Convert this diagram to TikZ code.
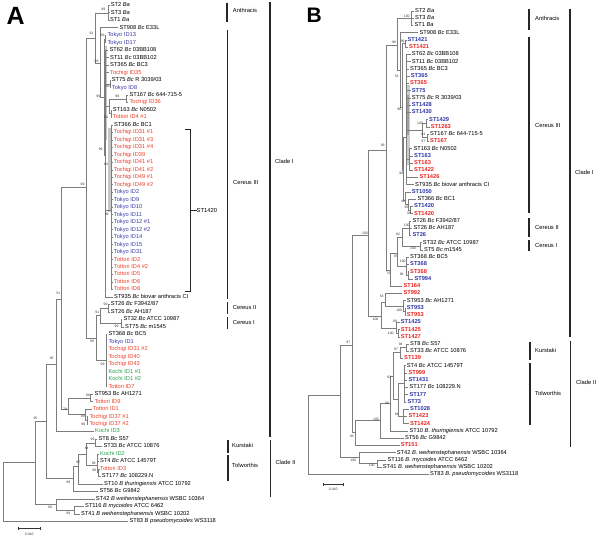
\documentclass[tikz,border=0pt]{standalone}
\usepackage{fontspec}
\setmainfont{Liberation Sans}
\definecolor{tokyo}{RGB}{58,58,165}
\definecolor{tochi}{RGB}{236,64,42}
\definecolor{kochi}{RGB}{38,160,70}
\definecolor{bblue}{RGB}{45,55,165}
\definecolor{bred}{RGB}{235,35,30}
\definecolor{treeg}{RGB}{125,125,125}
\newcommand\YA[1]{5.3+(#1-1)*7.478}
\newcommand\YB[1]{11+(#1-1)*7.24}
\tikzset{
 lf/.style={anchor=west,inner xsep=1pt,inner ysep=0pt,font=\fontsize{5.7}{6}\selectfont,text height=4.1pt,text depth=1.2pt},
 tk/.style={text=tokyo}, tg/.style={text=tochi}, kc/.style={text=kochi},
 bl/.style={text=bblue,font=\fontsize{5.7}{6}\selectfont\bfseries},
 rd/.style={text=bred,font=\fontsize{5.7}{6}\selectfont\bfseries},
 br/.style={draw=treeg,line width=0.55pt},
 bs/.style={font=\fontsize{3.4}{3.4}\selectfont,inner sep=0pt,text=black!80},
 clb/.style={draw=black!85,line width=1.1pt},
 tkb/.style={draw=black!85,line width=0.5pt},
 cl/.style={anchor=west,inner sep=0pt,font=\fontsize{5.8}{6}\selectfont,text height=4.1pt,text depth=1.2pt},
 gbar/.style={fill=gray!45,draw=none},
 sbar/.style={draw=black!80,line width=0.5pt},
}
\begin{document}
\begin{tikzpicture}[x=1pt,y=-1pt]
\useasboundingbox (0,0) rectangle (600,537);
\node[anchor=base west,inner sep=0pt,font=\fontsize{25}{25}\selectfont\bfseries] (labA) at (6.5,25) {A};
\node[anchor=base west,inner sep=0pt,font=\fontsize{21}{21}\selectfont\bfseries] (labB) at (306.5,22.7) {B};

% ---------------- Panel A ----------------
\fill[gbar] (104.8,46) rectangle (107.2,140);
\fill[gbar] (108.2,128) rectangle (110.6,212);

\node[lf] (a1) at (109.7,{\YA{1}}) {ST2 \textit{Ba}};
\node[lf] (a2) at (109.7,{\YA{2}}) {ST3 \textit{Ba}};
\node[lf] (a3) at (109,{\YA{3}}) {ST1 \textit{Ba}};
\node[lf] (a4) at (118.3,{\YA{4}}) {ST908 \textit{Bc} E33L};
\node[lf,tk] (a5) at (106.3,{\YA{5}}) {Tokyo ID13};
\node[lf,tk] (a6) at (106.3,{\YA{6}}) {Tokyo ID17};
\node[lf] (a7) at (108.3,{\YA{7}}) {ST62 \textit{Bc} 03BB108};
\node[lf] (a8) at (109,{\YA{8}}) {ST11 \textit{Bc} 03BB102};
\node[lf] (a9) at (109,{\YA{9}}) {ST365 \textit{Bc} BC3};
\node[lf,tg] (a10) at (109,{\YA{10}}) {Tochigi ID35};
\node[lf] (a11) at (110.7,{\YA{11}}) {ST75 \textit{Bc} R 3039/03};
\node[lf,tk] (a12) at (110.7,{\YA{12}}) {Tokyo ID8};
\node[lf] (a13) at (128.3,{\YA{13}}) {ST167 \textit{Bc} 644-715-5};
\node[lf,tg] (a14) at (128.3,{\YA{14}}) {Tochigi ID36};
\node[lf] (a15) at (111.7,{\YA{15}}) {ST163 \textit{Bc} N0502};
\node[lf,tg] (a16) at (111.7,{\YA{16}}) {Tottori ID4 \#1};
\node[lf] (a17) at (113,{\YA{17}}) {ST366 \textit{Bc} BC1};
\node[lf,tg] (a18) at (112.7,{\YA{18}}) {Tochigi ID31 \#1};
\node[lf,tg] (a19) at (112.7,{\YA{19}}) {Tochigi ID31 \#3};
\node[lf,tg] (a20) at (112.7,{\YA{20}}) {Tochigi ID31 \#4};
\node[lf,tg] (a21) at (112.7,{\YA{21}}) {Tochigi ID39};
\node[lf,tg] (a22) at (112.7,{\YA{22}}) {Tochigi ID41 \#1};
\node[lf,tg] (a23) at (112.7,{\YA{23}}) {Tochigi ID41 \#2};
\node[lf,tg] (a24) at (112.7,{\YA{24}}) {Tochigi ID49 \#1};
\node[lf,tg] (a25) at (112.7,{\YA{25}}) {Tochigi ID49 \#2};
\node[lf,tk] (a26) at (112.7,{\YA{26}}) {Tokyo ID2};
\node[lf,tk] (a27) at (112.7,{\YA{27}}) {Tokyo ID9};
\node[lf,tk] (a28) at (112.7,{\YA{28}}) {Tokyo ID10};
\node[lf,tk] (a29) at (112.7,{\YA{29}}) {Tokyo ID11};
\node[lf,tk] (a30) at (112.7,{\YA{30}}) {Tokyo ID12 \#1};
\node[lf,tk] (a31) at (112.7,{\YA{31}}) {Tokyo ID12 \#2};
\node[lf,tk] (a32) at (112.7,{\YA{32}}) {Tokyo ID14};
\node[lf,tk] (a33) at (112.7,{\YA{33}}) {Tokyo ID15};
\node[lf,tk] (a34) at (112.7,{\YA{34}}) {Tokyo ID31};
\node[lf,tg] (a35) at (113,{\YA{35}}) {Tottori ID2};
\node[lf,tg] (a36) at (113,{\YA{36}}) {Tottori ID4 \#2};
\node[lf,tg] (a37) at (113,{\YA{37}}) {Tottori ID5};
\node[lf,tg] (a38) at (113,{\YA{38}}) {Tottori ID6};
\node[lf,tg] (a39) at (113,{\YA{39}}) {Tottori ID8};
\node[lf] (a40) at (113,{\YA{40}}) {ST935 \textit{Bc} biovar anthracis CI};
\node[lf] (a41) at (109.7,{\YA{41}}) {ST26 \textit{Bc} F3942/87};
\node[lf] (a42) at (109.7,{\YA{42}}) {ST26 \textit{Bc} AH187};
\node[lf] (a43) at (122.3,{\YA{43}}) {ST32 \textit{Bc} ATCC 10987};
\node[lf] (a44) at (124,{\YA{44}}) {ST75 \textit{Bc} m1545};
\node[lf] (a45) at (107.3,{\YA{45}}) {ST368 \textit{Bc} BC5};
\node[lf,tk] (a46) at (107.3,{\YA{46}}) {Tokyo ID1};
\node[lf,tg] (a47) at (107.3,{\YA{47}}) {Tochigi ID31 \#2};
\node[lf,tg] (a48) at (107.3,{\YA{48}}) {Tochigi ID40};
\node[lf,tg] (a49) at (107.3,{\YA{49}}) {Tochigi ID43};
\node[lf,kc] (a50) at (107.3,{\YA{50}}) {Kochi ID1 \#1};
\node[lf,kc] (a51) at (107.3,{\YA{51}}) {Kochi ID1 \#2};
\node[lf,tg] (a52) at (107.3,{\YA{52}}) {Tottori ID7};
\node[lf] (a53) at (93.3,{\YA{53}}) {ST953 Bc AH1271};
\node[lf,tg] (a54) at (93.3,{\YA{54}}) {Tottori ID9};
\node[lf,tg] (a55) at (91.7,{\YA{55}}) {Tottori ID1};
\node[lf,tg] (a56) at (88.3,{\YA{56}}) {Tochigi ID37 \#1};
\node[lf,tg] (a57) at (88.3,{\YA{57}}) {Tochigi ID37 \#2};
\node[lf,kc] (a58) at (94,{\YA{58}}) {Kochi ID3};
\node[lf] (a59) at (97.3,{\YA{59}}) {ST8 \textit{Bc} S57};
\node[lf] (a60) at (102.3,{\YA{60}}) {ST33 \textit{Bc} ATCC 10876};
\node[lf,kc] (a61) at (99,{\YA{61}}) {Kochi ID2};
\node[lf] (a62) at (99,{\YA{62}}) {ST4 \textit{Bc} ATCC 14579T};
\node[lf,tg] (a63) at (99,{\YA{63}}) {Tottori ID3};
\node[lf] (a64) at (100.7,{\YA{64}}) {ST177 \textit{Bc} 108229.N};
\node[lf] (a65) at (103,{\YA{65}}) {ST10 \textit{B thuringiensis} ATCC 10792};
\node[lf] (a66) at (98.3,{\YA{66}}) {ST56 \textit{Bc} G9842};
\node[lf] (a67) at (94.7,{\YA{67}}) {ST42 \textit{B weihenstephanensis} WSBC 10364};
\node[lf] (a68) at (84,{\YA{68}}) {ST116 \textit{B mycoides} ATCC 6462};
\node[lf] (a69) at (80,{\YA{69}}) {ST41 \textit{B weihenstephanensis} WSBC 10202};
\node[lf] (a70) at (128.3,{\YA{70}}) {ST83 \textit{B pseudomycoides} WS3118};

\coordinate (RA) at (3.3,490);
\coordinate (N1) at (35.7,462.5);
\coordinate (W) at (56,503.8);
\coordinate (W2) at (74,510.1);
\coordinate (N2) at (46.7,421.5);
\coordinate (CII) at (73.3,478);
\coordinate (H) at (78.3,466);
\coordinate (H2) at (86.7,454);
\coordinate (Kur) at (95.5,442.8);
\coordinate (Tol) at (97.5,465);
\coordinate (Tol2) at (98.5,472.7);
\coordinate (C1) at (56,364);
\coordinate (D) at (61.7,299);
\coordinate (E) at (68.3,409);
\coordinate (F) at (90,397.9);
\coordinate (G) at (85,414.5);
\coordinate (G2) at (87.3,420.3);
\coordinate (K) at (86,187);
\coordinate (S0) at (96.7,338);
\coordinate (C91) at (100,315);
\coordinate (C2) at (108.5,308.2);
\coordinate (CI) at (121.3,323.1);
\coordinate (S368) at (106.3,360.5);
\coordinate (P1) at (95,38);
\coordinate (Ba) at (108.5,12.8);
\coordinate (P2) at (100.7,63);
\coordinate (P3) at (104,97);
\coordinate (T1317) at (105.2,39);
\coordinate (P4) at (105.5,155);
\coordinate (Q2) at (109.8,83.8);
\coordinate (S16) at (109.3,106);
\coordinate (S167) at (126.7,98.8);
\coordinate (S163) at (111.1,113.7);
\coordinate (S1420) at (111.5,210);

\foreach \p/\c in {RA/N1,RA/a70,N1/N2,N1/W,W/a67,W/W2,W2/a68,W2/a69,N2/C1,N2/CII,
  CII/H,CII/a66,H/H2,H/a65,H2/Kur,H2/Tol,Kur/a59,Kur/a60,Tol/a61,Tol/a62,Tol/Tol2,Tol2/a63,Tol2/a64,
  C1/D,C1/a58,D/K,D/E,E/F,E/G,F/a53,F/a54,G/a55,G/G2,G2/a56,G2/a57,
  K/P1,K/S0,S0/C91,S0/S368,C91/C2,C91/CI,C2/a41,C2/a42,CI/a43,CI/a44,
  P1/Ba,P1/P2,Ba/a1,Ba/a2,Ba/a3,P2/a4,P2/P3,P3/T1317,P3/P4,T1317/a5,T1317/a6,
  P4/a7,P4/a8,P4/a9,P4/a10,P4/Q2,P4/S16,P4/S1420,P4/a40,Q2/a11,Q2/a12,
  S16/S167,S16/S163,S167/a13,S167/a14,S163/a15,S163/a16}
  \draw[br] (\p) |- (\c);
\foreach \i in {45,...,52} \draw[br] (S368) |- (a\i);
\foreach \i in {17,...,39} \draw[br] (S1420) |- (a\i);

% bootstrap A
\node[bs] (ba1) at (103.3,9.5) {99};
\node[bs] (ba2) at (91.5,33) {91};
\node[bs] (ba3) at (102.5,35.5) {99};
\node[bs] (ba4) at (96.5,61.5) {98};
\node[bs] (ba5) at (107.6,86) {99};
\node[bs] (ba6) at (98.3,96) {99};
\node[bs] (ba7) at (117.3,96.5) {99};
\node[bs] (ba8) at (106,117) {94};
\node[bs] (ba9) at (100.7,149.5) {99};
\node[bs] (ba10) at (106,164.3) {84};
\node[bs] (ba11) at (82.5,184) {99};
\node[bs] (ba12) at (106.7,214.3) {99};
\node[bs] (ba13) at (58.3,293.3) {51};
\node[bs] (ba14) at (105.5,304.5) {99};
\node[bs] (ba15) at (97.3,312.3) {91};
\node[bs] (ba16) at (116.5,326) {99};
\node[bs] (ba17) at (92,341.5) {99};
\node[bs] (ba18) at (51.7,358.5) {95};
\node[bs] (ba19) at (102.5,364) {99};
\node[bs] (ba20) at (87.8,395) {99};
\node[bs] (ba21) at (65,409) {79};
\node[bs] (ba22) at (82.8,416.5) {99};
\node[bs] (ba23) at (35.5,418) {95};
\node[bs] (ba24) at (83.3,424) {99};
\node[bs] (ba25) at (92.5,439.3) {99};
\node[bs] (ba26) at (86.7,448.3) {84};
\node[bs] (ba27) at (78.3,462.5) {87};
\node[bs] (ba28) at (93.7,463.3) {99};
\node[bs] (ba29) at (94.2,470.5) {99};
\node[bs] (ba30) at (68.3,482.7) {99};
\node[bs] (ba31) at (50,507.3) {99};
\node[bs] (ba32) at (68.3,513.3) {99};

% ST1420 bracket
\coordinate (s1t) at (185,129);
\coordinate (s1b) at (185,291);
\coordinate (s1m) at (190,210.7);
\node[cl] (st1420) at (196.5,210.7) {ST1420};
\draw[tkb] (s1t) -- ++(5,0) -- ++(0,162) -- (s1b);
\draw[tkb] (s1m) -- (st1420.west);

% clade brackets A
\draw[clb] (227,2.7) -- (227,21.7);
\draw[clb] (227.7,30) -- (227.7,299);
\draw[clb] (227.7,301.7) -- (227.7,314);
\draw[clb] (227.7,317) -- (227.7,329);
\draw[clb] (228,440) -- (228,452.7);
\draw[clb] (228,455) -- (228,480.7);
\draw[clb] (270,1.7) -- (270,436.7);
\draw[clb] (270.7,440) -- (270.7,496.7);
\node[cl] (tAnA) at (232.7,11) {Anthracis};
\node[cl] (tC3A) at (233,183) {Cereus III};
\node[cl] (tC2A) at (232.7,307.7) {Cereus II};
\node[cl] (tC1A) at (232.7,322.7) {Cereus I};
\node[cl] (tKuA) at (232,446) {Kurstaki};
\node[cl] (tToA) at (232,466) {Tolworthis};
\node[cl] (tClIA) at (275,162) {Clade I};
\node[cl] (tClIIA) at (275.3,462.7) {Clade II};

% scale A
\draw[sbar] (18.3,528.3) -- (40,528.3);
\draw[sbar] (18.3,527) -- (18.3,529.6);
\draw[sbar] (40,527) -- (40,529.6);
\node[bs] (scA) at (29.2,534) {0.010};

% ---------------- Panel B ----------------
\fill[fill=gray!40] (405.5,85) rectangle (409.8,165);
\fill[fill=gray!75] (406.8,95) rectangle (408.6,135);
\fill[fill=gray!70] (404,374) rectangle (405.4,394);

\node[lf] (b1) at (414,{\YB{1}}) {ST2 \textit{Ba}};
\node[lf] (b2) at (414,{\YB{2}}) {ST3 \textit{Ba}};
\node[lf] (b3) at (413.3,{\YB{3}}) {ST1 \textit{Ba}};
\node[lf] (b4) at (418.3,{\YB{4}}) {ST908 \textit{Bc} E33L};
\node[lf,bl] (b5) at (406.3,{\YB{5}}) {ST1421};
\node[lf,rd] (b6) at (408,{\YB{6}}) {ST1421};
\node[lf] (b7) at (410.7,{\YB{7}}) {ST62 \textit{Bc} 03BB108};
\node[lf] (b8) at (410.7,{\YB{8}}) {ST11 \textit{Bc} 03BB102};
\node[lf] (b9) at (409,{\YB{9}}) {ST365 \textit{Bc} BC3};
\node[lf,bl] (b10) at (409.7,{\YB{10}}) {ST365};
\node[lf,rd] (b11) at (409,{\YB{11}}) {ST365};
\node[lf,bl] (b12) at (410.7,{\YB{12}}) {ST75};
\node[lf] (b13) at (410.7,{\YB{13}}) {ST75 \textit{Bc} R 3039/03};
\node[lf,bl] (b14) at (410.7,{\YB{14}}) {ST1428};
\node[lf,bl] (b15) at (410.7,{\YB{15}}) {ST1430};
\node[lf,bl] (b16) at (428,{\YB{16}}) {ST1429};
\node[lf,rd] (b17) at (429.7,{\YB{17}}) {ST1263};
\node[lf] (b18) at (429,{\YB{18}}) {ST167 \textit{Bc} 644-715-5};
\node[lf,rd] (b19) at (429,{\YB{19}}) {ST167};
\node[lf] (b20) at (412.3,{\YB{20}}) {ST163 \textit{Bc} N0502};
\node[lf,bl] (b21) at (413,{\YB{21}}) {ST163};
\node[lf,rd] (b22) at (413,{\YB{22}}) {ST163};
\node[lf,rd] (b23) at (413,{\YB{23}}) {ST1422};
\node[lf,rd] (b24) at (418.3,{\YB{24}}) {ST1426};
\node[lf] (b25) at (414,{\YB{25}}) {ST935 \textit{Bc} biovar anthracis CI};
\node[lf,bl] (b26) at (410.7,{\YB{26}}) {ST1050};
\node[lf] (b27) at (416.3,{\YB{27}}) {ST366 \textit{Bc} BC1};
\node[lf,bl] (b28) at (413,{\YB{28}}) {ST1420};
\node[lf,rd] (b29) at (413,{\YB{29}}) {ST1420};
\node[lf] (b30) at (411.3,{\YB{30}}) {ST26 \textit{Bc} F3942/87};
\node[lf] (b31) at (412.3,{\YB{31}}) {ST26 \textit{Bc} AH187};
\node[lf,bl] (b32) at (411.3,{\YB{32}}) {ST26};
\node[lf] (b33) at (421.7,{\YB{33}}) {ST32 \textit{Bc} ATCC 10987};
\node[lf] (b34) at (423,{\YB{34}}) {ST5 \textit{Bc} m1545};
\node[lf] (b35) at (409,{\YB{35}}) {ST368 \textit{Bc} BC5};
\node[lf,bl] (b36) at (409,{\YB{36}}) {ST368};
\node[lf,rd] (b37) at (409,{\YB{37}}) {ST368};
\node[lf,bl] (b38) at (413.3,{\YB{38}}) {ST994};
\node[lf,rd] (b39) at (402.3,{\YB{39}}) {ST164};
\node[lf,rd] (b40) at (402.3,{\YB{40}}) {ST992};
\node[lf] (b41) at (405.7,{\YB{41}}) {ST953 \textit{Bc} AH1271};
\node[lf,bl] (b42) at (405.7,{\YB{42}}) {ST953};
\node[lf,rd] (b43) at (405.7,{\YB{43}}) {ST953};
\node[lf,bl] (b44) at (399.7,{\YB{44}}) {ST1425};
\node[lf,rd] (b45) at (399.7,{\YB{45}}) {ST1425};
\node[lf,rd] (b46) at (399.7,{\YB{46}}) {ST1427};
\node[lf] (b47) at (409,{\YB{47}}) {ST8 \textit{Bc} S57};
\node[lf] (b48) at (409,{\YB{48}}) {ST33 \textit{Bc} ATCC 10876};
\node[lf,rd] (b49) at (403,{\YB{49}}) {ST139};
\node[lf] (b50) at (405.7,{\YB{50}}) {ST4 \textit{Bc} ATCC 14579T};
\node[lf,rd] (b51) at (407.3,{\YB{51}}) {ST999};
\node[lf,bl] (b52) at (407.3,{\YB{52}}) {ST1431};
\node[lf] (b53) at (408.3,{\YB{53}}) {ST177 \textit{Bc} 108229.N};
\node[lf,bl] (b54) at (408.3,{\YB{54}}) {ST177};
\node[lf,bl] (b55) at (406.3,{\YB{55}}) {ST73};
\node[lf,bl] (b56) at (409,{\YB{56}}) {ST1028};
\node[lf,rd] (b57) at (407.3,{\YB{57}}) {ST1423};
\node[lf,rd] (b58) at (409,{\YB{58}}) {ST1424};
\node[lf] (b59) at (408.3,{\YB{59}}) {ST10 \textit{B. thuringiensis} ATCC 10792};
\node[lf] (b60) at (404,{\YB{60}}) {ST56 \textit{Bc} G9842};
\node[lf,rd] (b61) at (399.7,{\YB{61}}) {ST151};
\node[lf] (b62) at (395.7,{\YB{62}}) {ST42 \textit{B. weihenstephanensis} WSBC 10364};
\node[lf] (b63) at (386.3,{\YB{63}}) {ST116 \textit{B. mycoides} ATCC 6462};
\node[lf] (b64) at (381.7,{\YB{64}}) {ST41 \textit{B. weihenstephanensis} WSBC 10202};
\node[lf] (b65) at (429,{\YB{65}}) {ST83 \textit{B. pseudomycoides} WS3118};

\coordinate (RB) at (308.3,440);
\coordinate (N1B) at (340,395);
\coordinate (WB) at (359.3,457);
\coordinate (WB2) at (377.3,463.5);
\coordinate (N2B) at (352.7,345);
\coordinate (CIIB) at (355,432);
\coordinate (CIIB2) at (380,420.5);
\coordinate (HB) at (390.7,403);
\coordinate (KT) at (393.3,376);
\coordinate (KurB2) at (400.5,352);
\coordinate (KurB) at (406,347.7);
\coordinate (TolB) at (398,399.5);
\coordinate (TolC) at (404.5,383);
\coordinate (TolD) at (403,416.4);
\coordinate (CIB) at (368.3,235.7);
\coordinate (LB) at (381.7,316);
\coordinate (GB1) at (385,302);
\coordinate (GB1b) at (403,306);
\coordinate (GB1c) at (405,311.5);
\coordinate (GB2) at (396,328);
\coordinate (GB2b) at (398,333.2);
\coordinate (KB) at (386,150);
\coordinate (M75) at (390.7,270);
\coordinate (M97) at (397.5,253);
\coordinate (C21B) at (402.7,237);
\coordinate (C2B) at (409.3,228.2);
\coordinate (C1B) at (420,246.3);
\coordinate (S368B) at (406,266);
\coordinate (S368C) at (408,275.3);
\coordinate (P1B) at (397.3,45);
\coordinate (BaB) at (411.7,18.2);
\coordinate (P2B) at (400,70);
\coordinate (P3B) at (402,107);
\coordinate (PB1421) at (405.5,43.6);
\coordinate (P4B) at (403.5,170);
\coordinate (P42) at (405.3,200);
\coordinate (P96) at (408,204.6);
\coordinate (P99) at (410.5,210.1);
\coordinate (P5B) at (406,137);
\coordinate (G12) at (422,130.5);
\coordinate (G1) at (426.5,123.2);
\coordinate (G2) at (427.5,137.7);
\coordinate (S163B) at (409.3,159);

\foreach \p/\c in {RB/N1B,RB/b65,N1B/N2B,N1B/WB,WB/b62,WB/WB2,WB2/b63,WB2/b64,
  N2B/CIB,N2B/CIIB,CIIB/CIIB2,CIIB/b61,CIIB2/HB,CIIB2/b60,HB/KT,HB/b59,
  KT/KurB2,KT/TolB,KurB2/KurB,KurB2/b49,KurB/b47,KurB/b48,TolB/TolC,TolB/TolD,
  TolC/b50,TolC/b51,TolC/b52,TolC/b53,TolC/b54,TolC/b55,TolD/b56,TolD/b57,TolD/b58,
  CIB/KB,CIB/LB,LB/GB1,LB/GB2,GB1/b40,GB1/GB1b,GB1b/b41,GB1b/GB1c,GB1c/b42,GB1c/b43,
  GB2/b44,GB2/GB2b,GB2b/b45,GB2b/b46,
  KB/P1B,KB/M75,M75/M97,M75/b39,M97/C21B,M97/S368B,C21B/C2B,C21B/C1B,
  C2B/b30,C2B/b31,C2B/b32,C1B/b33,C1B/b34,S368B/b35,S368B/b36,S368B/S368C,S368C/b37,S368C/b38,
  P1B/BaB,P1B/P2B,BaB/b1,BaB/b2,BaB/b3,P2B/b4,P2B/P3B,P3B/PB1421,P3B/P4B,PB1421/b5,PB1421/b6,
  P4B/P5B,P4B/P42,P42/b26,P42/P96,P96/b27,P96/P99,P99/b28,P99/b29,
  P5B/b7,P5B/b8,P5B/b9,P5B/b10,P5B/b11,P5B/b12,P5B/b13,P5B/b14,P5B/b15,P5B/G12,P5B/S163B,P5B/b24,P5B/b25,
  G12/G1,G12/G2,G1/b16,G1/b17,G2/b18,G2/b19,S163B/b20,S163B/b21,S163B/b22,S163B/b23}
  \draw[br] (\p) |- (\c);

% bootstrap B
\node[bs] (bb1) at (406.7,16) {100};
\node[bs] (bb2) at (402.7,41.7) {99};
\node[bs] (bb3) at (394,42.7) {98};
\node[bs] (bb4) at (396.7,76) {53};
\node[bs] (bb5) at (399.3,109.3) {96};
\node[bs] (bb6) at (420,123.3) {100};
\node[bs] (bb7) at (423.3,134.7) {84};
\node[bs] (bb8) at (423.3,141) {97};
\node[bs] (bb9) at (382.7,145) {99};
\node[bs] (bb10) at (401.3,173.3) {98};
\node[bs] (bb11) at (403,201.2) {42};
\node[bs] (bb12) at (406.5,207) {96};
\node[bs] (bb13) at (409,213) {99};
\node[bs] (bb14) at (406.7,225) {100};
\node[bs] (bb15) at (365,233.3) {100};
\node[bs] (bb16) at (398,234.2) {82};
\node[bs] (bb17) at (413,248.7) {100};
\node[bs] (bb18) at (395.7,256) {97};
\node[bs] (bb19) at (402.7,261.7) {100};
\node[bs] (bb20) at (401.7,274.3) {96};
\node[bs] (bb21) at (388.3,273) {75};
\node[bs] (bb22) at (381.7,296) {53};
\node[bs] (bb23) at (399.3,310) {100};
\node[bs] (bb24) at (375.5,319.3) {100};
\node[bs] (bb25) at (395,321.7) {99};
\node[bs] (bb26) at (390.7,333.3) {100};
\node[bs] (bb27) at (348.3,342.7) {97};
\node[bs] (bb28) at (400.7,344) {94};
\node[bs] (bb29) at (396,349.3) {97};
\node[bs] (bb30) at (389.3,377.3) {82};
\node[bs] (bb31) at (387.3,403.3) {56};
\node[bs] (bb32) at (376,419.3) {100};
\node[bs] (bb33) at (396.7,414) {91};
\node[bs] (bb34) at (351.7,436) {49};
\node[bs] (bb35) at (353.3,460) {100};
\node[bs] (bb36) at (371.7,465.3) {100};

% clade brackets B
\draw[clb] (529,9) -- (529,30);
\draw[clb] (529,37) -- (529,213);
\draw[clb] (529,218) -- (529,236.7);
\draw[clb] (529,240) -- (529,250.7);
\draw[clb] (530,341.7) -- (530,360);
\draw[clb] (530,363.3) -- (530,425);
\draw[clb] (570,9) -- (570,337);
\draw[clb] (570.7,341) -- (570.7,446.7);
\node[cl] (tAnB) at (535,18.7) {Anthracis};
\node[cl] (tC3B) at (535,125.7) {Cereus III};
\node[cl] (tC2B) at (535,227.7) {Cereus II};
\node[cl] (tC1B) at (535,246) {Cereus I};
\node[cl] (tKuB) at (535,350.7) {Kurstaki};
\node[cl] (tToB) at (535,394) {Tolworthis};
\node[cl] (tClIB) at (575,173.3) {Clade I};
\node[cl] (tClIIB) at (576,383.3) {Clade II};

% scale B
\draw[sbar] (323,484.3) -- (343.3,484.3);
\draw[sbar] (323,483) -- (323,485.6);
\draw[sbar] (343.3,483) -- (343.3,485.6);
\node[bs] (scB) at (333.2,489) {0.010};
\end{tikzpicture}
\end{document}
